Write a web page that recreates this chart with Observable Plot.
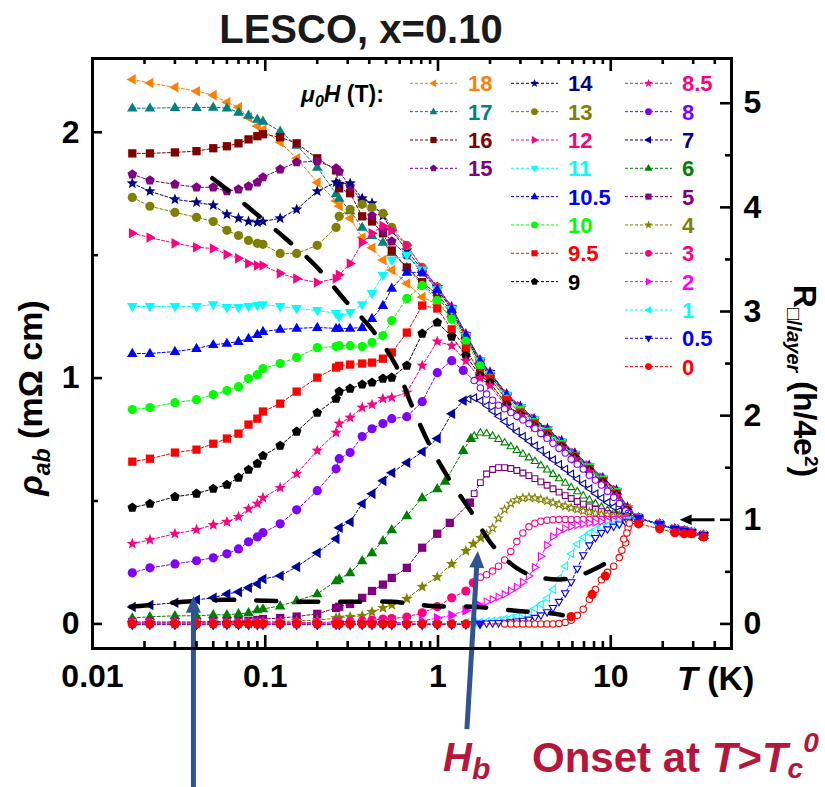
<!DOCTYPE html>
<html>
<head>
<meta charset="utf-8">
<script src="https://cdn.jsdelivr.net/npm/d3@7"></script>
<script src="https://cdn.jsdelivr.net/npm/@observablehq/plot@0.6"></script>
<style>
  body { margin: 0; background: #fff; }
  #chart { position: relative; width: 825px; height: 787px; }
</style>
</head>
<body>
<div id="chart"></div>
<script>
// ---------- axes ----------
const K = 0.4236;                         // mΩ cm per (h/4e²) per layer
const xMajor = [0.01, 0.1, 1, 10];
const xMajorLabels = ["0.01", "0.1", "1", "10"];
const yMajor = [0, 1, 2];
const yMinor = [0.5, 1.5];
const rMajor = [0, 1, 2, 3, 4, 5];
const rMinor = [0.5, 1.5, 2.5, 3.5, 4.5];

// ---------- temperature grids (K) ----------
const tLow = [0.017, 0.0215, 0.03, 0.04, 0.05, 0.06, 0.07, 0.08, 0.09, 0.097, 0.122, 0.152, 0.2, 0.257, 0.268, 0.31, 0.364, 0.415, 0.48, 0.54, 0.66, 0.81, 0.99];
const tHigh = [1.2, 1.45, 1.75, 2.0, 2.5, 3.0, 3.6, 4.3, 5.2, 6.2, 7.5, 9.0, 10.8, 12.5];
const tDense = [1.5, 1.62, 1.76, 1.91, 2.07, 2.24, 2.43, 2.64, 2.86, 3.1, 3.36, 3.64, 3.94, 4.28, 4.63, 5.02, 5.45, 5.9, 6.4, 6.93, 7.52, 8.15, 8.83, 9.57, 10.4, 11.2, 12.2, 12.6];
const tTail = [14.5, 19.2, 23.5, 26.6, 29.3, 34.4];
const tailRho = [0.43, 0.405, 0.385, 0.378, 0.372, 0.36];
const tail0 = [0.407, 0.387, 0.371, 0.367, 0.367, 0.354];

// ---------- ρab (mΩ cm) for each field ----------
const low18 = [2.215,2.200,2.183,2.167,2.151,2.122,2.102,2.060,2.025,2.010,1.959,1.894,1.796,1.720,1.700,1.650,1.572,1.530,1.480,1.440,1.385,1.330,1.300];
const high18 = [1.25,1.16,1.06,1.01,0.925,0.875,0.825,0.785,0.735,0.685,0.635,0.585,0.535,0.47];
const low17 = [2.098,2.098,2.100,2.100,2.102,2.098,2.081,2.069,2.053,2.045,2.004,1.947,1.857,1.750,1.731,1.680,1.613,1.580,1.552,1.510,1.450,1.380,1.330];
const high17 = [1.26,1.17,1.065,1.015,0.93,0.88,0.83,0.79,0.74,0.69,0.64,0.59,0.54,0.47];
const low16 = [1.914,1.914,1.918,1.923,1.935,1.943,1.955,1.971,1.984,1.992,1.980,1.955,1.894,1.845,1.772,1.752,1.658,1.637,1.589,1.519,1.450,1.390,1.340];
const high16 = [1.27,1.165,1.06,1.01,0.925,0.875,0.825,0.785,0.735,0.685,0.635,0.585,0.535,0.465];
const low15 = [1.829,1.804,1.788,1.776,1.776,1.760,1.768,1.780,1.796,1.817,1.849,1.878,1.882,1.853,1.840,1.780,1.720,1.660,1.600,1.556,1.500,1.430,1.370];
const high15 = [1.28,1.17,1.07,1.02,0.93,0.88,0.83,0.79,0.74,0.69,0.64,0.59,0.54,0.47];
const low14 = [1.792,1.760,1.727,1.715,1.703,1.666,1.650,1.637,1.633,1.637,1.650,1.686,1.760,1.796,1.790,1.792,1.731,1.711,1.660,1.600,1.520,1.440,1.370];
const high14 = [1.29,1.18,1.075,1.025,0.935,0.885,0.835,0.795,0.745,0.695,0.645,0.595,0.545,0.475];
const low13 = [1.735,1.699,1.674,1.654,1.637,1.601,1.580,1.560,1.548,1.544,1.507,1.507,1.540,1.613,1.658,1.686,1.707,1.694,1.670,1.613,1.540,1.450,1.370];
const high13 = [1.28,1.175,1.07,1.02,0.93,0.88,0.83,0.79,0.74,0.69,0.64,0.59,0.54,0.47];
const low12 = [1.589,1.572,1.548,1.532,1.527,1.503,1.487,1.466,1.458,1.458,1.426,1.405,1.389,1.405,1.420,1.466,1.552,1.589,1.620,1.600,1.540,1.450,1.370];
const high12 = [1.29,1.18,1.075,1.02,0.935,0.885,0.835,0.79,0.745,0.695,0.645,0.595,0.545,0.475];
const low11 = [1.291,1.291,1.291,1.291,1.299,1.287,1.287,1.291,1.295,1.299,1.291,1.283,1.275,1.263,1.250,1.267,1.299,1.344,1.418,1.479,1.500,1.440,1.360];
const high11 = [1.28,1.17,1.07,1.015,0.93,0.88,0.83,0.785,0.74,0.69,0.64,0.59,0.54,0.47];
const low105 = [1.100,1.100,1.108,1.120,1.136,1.141,1.149,1.161,1.177,1.189,1.198,1.202,1.206,1.202,1.202,1.202,1.206,1.242,1.295,1.365,1.430,1.430,1.360];
const high105 = [1.28,1.175,1.07,1.02,0.93,0.88,0.83,0.79,0.74,0.69,0.64,0.59,0.54,0.47];
const low10 = [0.872,0.880,0.900,0.912,0.933,0.949,0.965,0.998,1.014,1.039,1.059,1.084,1.124,1.128,1.132,1.132,1.128,1.145,1.173,1.234,1.324,1.377,1.316];
const high10 = [1.24,1.15,1.05,1.00,0.915,0.87,0.82,0.78,0.73,0.68,0.635,0.585,0.535,0.465];
const low95 = [0.660,0.672,0.697,0.709,0.733,0.754,0.774,0.811,0.835,0.864,0.896,0.945,1.002,1.043,1.050,1.055,1.059,1.063,1.079,1.104,1.185,1.295,1.283];
const high95 = [1.198,1.12,1.02,0.998,0.91,0.86,0.815,0.775,0.725,0.68,0.63,0.58,0.53,0.465];
const low9 = [0.473,0.489,0.517,0.530,0.550,0.566,0.595,0.627,0.652,0.684,0.725,0.782,0.859,0.916,0.945,0.957,0.974,0.982,0.998,1.002,1.051,1.181,1.226];
const high9 = [1.169,1.092,1.01,0.982,0.89,0.85,0.805,0.765,0.72,0.675,0.625,0.575,0.525,0.46];
const low85 = [0.326,0.342,0.367,0.383,0.403,0.415,0.436,0.468,0.489,0.513,0.554,0.611,0.705,0.778,0.815,0.839,0.880,0.892,0.916,0.921,0.941,1.051,1.149];
const high85 = [1.132,1.07,1.00,0.97,0.88,0.845,0.80,0.76,0.715,0.67,0.62,0.57,0.52,0.455];

const low8 = [0.208,0.228,0.244,0.257,0.269,0.285,0.305,0.334,0.354,0.371,0.407,0.464,0.542,0.631,0.672,0.697,0.762,0.794,0.815,0.835,0.843,0.904,1.022];
const mid8T = [1.2, 1.4], mid8 = [1.071, 1.031];
const dense8 = [null,0.99,0.96,0.935,0.91,0.89,0.875,0.86,0.845,0.83,0.815,0.795,0.775,0.755,0.735,0.715,0.695,0.67,0.65,0.63,0.605,0.585,0.565,0.54,0.515,0.49,0.46,0.45];

const low7 = [0.069,0.077,0.086,0.098,0.106,0.122,0.130,0.147,0.163,0.183,0.196,0.232,0.289,0.346,0.391,0.415,0.489,0.530,0.582,0.615,0.656,0.700,0.754];
const mid7T = [1.2, 1.4], mid7 = [0.855, 0.908];
const dense7 = [0.915,0.92,0.908,0.888,0.866,0.845,0.823,0.802,0.782,0.763,0.744,0.725,0.706,0.687,0.668,0.649,0.63,0.61,0.59,0.57,0.55,0.53,0.512,0.494,0.476,0.46,0.44,0.435];

const low6 = [0.024,0.029,0.033,0.033,0.037,0.037,0.041,0.045,0.057,0.061,0.073,0.094,0.122,0.175,0.183,0.208,0.257,0.289,0.338,0.383,0.440,0.513,0.550];
const mid6T = [1.1, 1.4, 1.55], mid6 = [0.58, 0.705, 0.754];
const dense6 = [null,0.765,0.778,0.775,0.765,0.752,0.738,0.722,0.707,0.692,0.677,0.662,0.645,0.628,0.61,0.592,0.574,0.556,0.539,0.522,0.505,0.49,0.476,0.463,0.452,0.443,0.435,0.432];

const low5 = [0.008,0.008,0.008,0.008,0.010,0.010,0.012,0.012,0.016,0.020,0.024,0.030,0.041,0.065,0.070,0.081,0.106,0.134,0.160,0.187,0.228,0.310,0.367];
const mid5T = [1.17, 1.53], mid5 = [0.411, 0.493];
const dense5 = [null,0.53,0.575,0.61,0.628,0.636,0.636,0.632,0.624,0.614,0.603,0.591,0.578,0.564,0.55,0.536,0.522,0.51,0.498,0.487,0.476,0.466,0.457,0.449,0.442,0.437,0.432,0.43];

const low4 = [0.004,0.004,0.004,0.004,0.005,0.005,0.005,0.006,0.007,0.008,0.010,0.012,0.015,0.024,0.026,0.029,0.033,0.049,0.065,0.077,0.102,0.151,0.191];
const mid4T = [1.2, 1.45, 1.6, 1.77], mid4 = [0.244, 0.297, 0.326, 0.35];
const dense4 = [null,null,null,0.365,0.39,0.43,0.465,0.49,0.505,0.512,0.515,0.512,0.507,0.50,0.493,0.486,0.479,0.472,0.466,0.46,0.455,0.45,0.446,0.442,0.438,0.435,0.432,0.43];

const low3 = [0.004,0.004,0.004,0.004,0.004,0.004,0.004,0.004,0.004,0.004,0.005,0.005,0.006,0.008,0.008,0.010,0.012,0.016,0.020,0.022,0.028,0.045,0.070];
const mid3T = [1.2, 1.45, 1.6], mid3 = [0.106, 0.134, 0.167];
const dense3 = [null,null,0.19,0.2,0.215,0.235,0.26,0.295,0.335,0.37,0.395,0.41,0.418,0.422,0.424,0.425,0.425,0.425,0.425,0.425,0.425,0.425,0.425,0.425,0.425,0.425,0.425,0.425];

const low2 = [0.003,0.003,0.003,0.003,0.003,0.003,0.003,0.003,0.003,0.003,0.003,0.003,0.003,0.003,0.003,0.003,0.003,0.004,0.004,0.005,0.006,0.012,0.024];
const mid2T = [1.2, 1.45, 1.7], mid2 = [0.035, 0.055, 0.08];
const dense2 = [null,null,null,0.09,0.1,0.11,0.12,0.135,0.15,0.17,0.195,0.23,0.275,0.32,0.355,0.375,0.388,0.396,0.402,0.406,0.41,0.413,0.416,0.419,0.421,0.423,0.425,0.425];

const low1 = [0.001,0.001,0.001,0.001,0.001,0.001,0.001,0.001,0.001,0.001,0.001,0.001,0.001,0.001,0.001,0.001,0.001,0.001,0.001,0.001,0.001,0.001,0.001];
const mid1T = [1.2, 1.45], mid1 = [0.002, 0.004];
const dense1 = [null,0.006,0.008,0.01,0.012,0.015,0.02,0.025,0.032,0.04,0.05,0.063,0.08,0.105,0.14,0.185,0.235,0.285,0.325,0.352,0.37,0.383,0.393,0.40,0.407,0.413,0.418,0.42];

const low05 = [-0.003,-0.003,-0.003,-0.003,-0.003,-0.003,-0.003,-0.003,-0.003,-0.003,-0.003,-0.003,-0.003,-0.003,-0.003,-0.003,-0.003,-0.003,-0.003,-0.003,-0.003,-0.003,-0.003];
const mid05T = [1.2, 1.45, 1.75], mid05 = [-0.003, -0.002, 0.0];
const dense05 = [null,null,null,0.002,0.003,0.004,0.005,0.007,0.01,0.013,0.018,0.025,0.035,0.048,0.065,0.09,0.125,0.17,0.225,0.28,0.32,0.35,0.37,0.385,0.396,0.405,0.413,0.416];

const low0 = [0,0,0,0,0,0,0,0,0,0,0,0,0,0,0,0,0,0,0,0,0,0,0];
const mid0T = [1.2, 1.45, 5.9, 7.8, 9.3], mid0 = [0, 0, 0.03, 0.12, 0.195];
const dense0 = [null,null,null,null,null,null,0,0,0,0,0,0,0,0,0,0.002,0.006,0.015,0.035,0.06,0.1,0.14,0.18,0.21,0.235,0.27,0.33,0.39];
const steep0T = [11.6, 11.9, 12.4, 12.8], steep0 = [0.30, 0.345, 0.37, 0.41];

// ---------- dashed guide curves ----------
const guideUpperT = [0.0494,0.055,0.084,0.129,0.195,0.29,0.41,0.571,0.679,0.875,1.127,1.57,2.08,3.18,5.57,9.48,10.8];
const guideUpperRho = [1.813,1.788,1.682,1.572,1.458,1.316,1.202,1.051,0.916,0.741,0.603,0.452,0.318,0.208,0.183,0.248,0.27];
const guideLowerT = [0.0166,0.0189,0.0336,0.0571,0.101,0.177,0.31,0.542,0.922,1.68,2.9,4.74,5.27];
const guideLowerRho = [0.07,0.073,0.09,0.098,0.094,0.09,0.09,0.09,0.073,0.069,0.053,0.041,0.035];

// ---------- marker shapes ----------
const poly = (p) => ({
  draw(ctx, size) {
    const r = Math.sqrt(size / Math.PI);
    p.forEach(([a, b], i) => (i ? ctx.lineTo(a * r, b * r) : ctx.moveTo(a * r, b * r)));
    ctx.closePath();
  }
});
const ring = (n, rr) => d3.range(n).map((i) => {
  const a = -Math.PI / 2 + (i * 2 * Math.PI) / n;
  const r = Array.isArray(rr) ? rr[i % rr.length] : rr;
  return [r * Math.cos(a), r * Math.sin(a)];
});
const shapes = {
  up: poly([[0, -1.25], [1.15, 0.75], [-1.15, 0.75]]),
  down: poly([[0, 1.25], [1.15, -0.75], [-1.15, -0.75]]),
  left: poly([[-1.25, 0], [0.75, -1.15], [0.75, 1.15]]),
  right: poly([[1.25, 0], [-0.75, -1.15], [-0.75, 1.15]]),
  square: poly([[-0.9, -0.9], [0.9, -0.9], [0.9, 0.9], [-0.9, 0.9]]),
  pentagon: poly(ring(5, 1.1)),
  star: poly(ring(10, [1.3, 0.55])),
  circle: d3.symbolCircle,
  head: poly([[0, 0], [1.15, 2.6], [-1.15, 2.6]])
};

// ---------- series definitions ----------
const seriesDefs = [
  { f: "18", color: "#FF8000", shape: "left", low: low18, high: high18 },
  { f: "17", color: "#008080", shape: "up", low: low17, high: high17 },
  { f: "16", color: "#800000", shape: "square", low: low16, high: high16 },
  { f: "15", color: "#800080", shape: "pentagon", low: low15, high: high15 },
  { f: "14", color: "#000080", shape: "star", low: low14, high: high14 },
  { f: "13", color: "#808000", shape: "circle", low: low13, high: high13 },
  { f: "12", color: "#FF0080", shape: "right", low: low12, high: high12 },
  { f: "11", color: "#00FFFF", shape: "down", low: low11, high: high11 },
  { f: "10.5", color: "#0000FF", shape: "up", low: low105, high: high105 },
  { f: "10", color: "#00FF00", shape: "circle", low: low10, high: high10 },
  { f: "9.5", color: "#FF0000", shape: "square", low: low95, high: high95 },
  { f: "9", color: "#000000", shape: "pentagon", low: low9, high: high9 },
  { f: "8.5", color: "#FF0080", shape: "star", low: low85, high: high85 },
  { f: "8", color: "#8000FF", shape: "circle", low: low8, midT: mid8T, mid: mid8, dense: dense8 },
  { f: "7", color: "#0000A0", shape: "left", low: low7, midT: mid7T, mid: mid7, dense: dense7 },
  { f: "6", color: "#008000", shape: "up", low: low6, midT: mid6T, mid: mid6, dense: dense6 },
  { f: "5", color: "#800080", shape: "square", low: low5, midT: mid5T, mid: mid5, dense: dense5 },
  { f: "4", color: "#808000", shape: "star", low: low4, midT: mid4T, mid: mid4, dense: dense4 },
  { f: "3", color: "#FF0080", shape: "circle", low: low3, midT: mid3T, mid: mid3, dense: dense3 },
  { f: "2", color: "#FF00FF", shape: "right", low: low2, midT: mid2T, mid: mid2, dense: dense2 },
  { f: "1", color: "#00FFFF", shape: "left", low: low1, midT: mid1T, mid: mid1, dense: dense1 },
  { f: "0.5", color: "#0000FF", shape: "down", low: low05, midT: mid05T, mid: mid05, dense: dense05 },
  { f: "0", color: "#FF0000", shape: "circle", low: low0, midT: mid0T, mid: mid0, dense: dense0, extraT: steep0T, extra: steep0, tail: tail0 }
];

const pts = (ts, vs) => ts.map((T, i) => ({ T, rho: vs[i] })).filter((d) => d.rho != null);

const series = seriesDefs.map((s) => {
  let filled = pts(tLow, s.low);
  if (s.high) filled = filled.concat(pts(tHigh, s.high));
  if (s.mid) filled = filled.concat(pts(s.midT, s.mid));
  filled = filled.concat(pts(tTail, s.tail || tailRho));
  let open = s.dense ? pts(tDense, s.dense) : [];
  if (s.extra) open = open.concat(pts(s.extraT, s.extra));
  const all = filled.concat(open).sort((a, b) => a.T - b.T);
  return { ...s, filled, open, all };
});

// ---------- layout ----------
const W = 825, H = 787, mL = 92, mR = 94, mT = 58, mB = 139;
const frameW = W - mL - mR, frameH = H - mT - mB;
const FONT = "'Liberation Sans', Arial, Helvetica, sans-serif";
const xMinor = xMajor.flatMap((m) => d3.range(2, 10).map((k) => +(k * m).toPrecision(3))).filter((v) => v <= 50);

const seriesMarks = series.flatMap((s) => [
  Plot.line(s.all, { x: "T", y: "rho", stroke: s.color, strokeWidth: 1, strokeDasharray: "3,2" }),
  Plot.dot(s.open, { x: "T", y: "rho", symbol: shapes[s.shape], r: 3.2, fill: "white", stroke: s.color, strokeWidth: 1.1 }),
  Plot.dot(s.filled, { x: "T", y: "rho", symbol: shapes[s.shape], r: 4.6, fill: s.color })
]);

// annotation arrows (data coordinates of tail, shaft end and tip)
const arrowsBlue = [
  { T1: 0.0384, r1: -0.668, T2: 0.0384, r2: 0.06, Tt: 0.0384, rt: 0.114, rot: 0 },
  { T1: 1.47, r1: -0.428, T2: 1.68, r2: 0.248, Tt: 1.70, rt: 0.297, rot: 3.6 }
];
const arrowR = [{ T1: 39.9, T2: 28.6, Tt: 25.05, r: 1 * K }];

const plot = Plot.plot({
  width: W, height: H,
  marginLeft: mL, marginRight: mR, marginTop: mT, marginBottom: mB,
  style: { fontFamily: FONT, background: "white", overflow: "visible" },
  x: { type: "log", domain: [0.01, 50] },
  y: { domain: [-0.10, 2.30] },
  marks: [
    ...seriesMarks,
    Plot.line(guideUpperT.map((T, i) => ({ T, rho: guideUpperRho[i] })), { x: "T", y: "rho", stroke: "black", strokeWidth: 4.5, strokeDasharray: "20,21", curve: "catmull-rom" }),
    Plot.line(guideLowerT.map((T, i) => ({ T, rho: guideLowerRho[i] })), { x: "T", y: "rho", stroke: "black", strokeWidth: 4.5, strokeDasharray: "20,22", curve: "catmull-rom" }),
    Plot.link(arrowsBlue, { x1: "T1", y1: "r1", x2: "T2", y2: "r2", stroke: "#2f5491", strokeWidth: 5 }),
    Plot.dot(arrowsBlue, { x: "Tt", y: "rt", symbol: shapes.head, r: 6.5, fill: "#2f5491", rotate: "rot" }),
    Plot.link(arrowR, { x1: "T1", y1: "r", x2: "T2", y2: "r", stroke: "black", strokeWidth: 3 }),
    Plot.dot(arrowR, { x: "Tt", y: "r", symbol: shapes.head, r: 4.6, fill: "black", rotate: -90 }),
    // frame and inward ticks
    Plot.frame({ stroke: "black", strokeWidth: 3 }),
    Plot.tickX(xMajor, { insetTop: frameH - 13, stroke: "black", strokeWidth: 2.6 }),
    Plot.tickX(xMinor, { insetTop: frameH - 7, stroke: "black", strokeWidth: 2.6 }),
    Plot.tickX(xMajor, { insetBottom: frameH - 13, stroke: "black", strokeWidth: 2.6 }),
    Plot.tickX(xMinor, { insetBottom: frameH - 6, stroke: "black", strokeWidth: 2.6 }),
    Plot.tickY(yMajor, { insetRight: frameW - 10, stroke: "black", strokeWidth: 2.6 }),
    Plot.tickY(yMinor, { insetRight: frameW - 6, stroke: "black", strokeWidth: 2.6 }),
    Plot.tickY(rMajor.map((r) => r * K), { insetLeft: frameW - 11, stroke: "black", strokeWidth: 2.6 }),
    Plot.tickY(rMinor.map((r) => r * K), { insetLeft: frameW - 6, stroke: "black", strokeWidth: 2.6 }),
    Plot.axisX({ ticks: xMajor, tickFormat: (d) => xMajorLabels[xMajor.indexOf(d)], tickSize: 0, tickPadding: 16, fontSize: 32, fontWeight: "bold", label: null, anchor: "bottom" }),
    Plot.axisY({ ticks: yMajor, tickFormat: (d) => String(d), tickSize: 0, tickPadding: 13, fontSize: 32, fontWeight: "bold", label: null, anchor: "left" }),
    Plot.axisY({ ticks: rMajor.map((r) => r * K), tickFormat: (v) => String(Math.round(v / K)), tickSize: 0, tickPadding: 12, fontSize: 32, fontWeight: "bold", label: null, anchor: "right" })
  ]
});

document.getElementById("chart").appendChild(plot);

// ---------- titles, axis labels, notes ----------
const svg = d3.select(plot);
const g = svg.append("g").attr("font-family", FONT).attr("font-weight", "bold").attr("text-anchor", "start");

function rich(attrs, parts) {
  const t = g.append("text");
  Object.entries(attrs).forEach(([k, v]) => t.attr(k, v));
  parts.forEach((p) => {
    const s = t.append("tspan").text(p.t);
    if (p.i) s.attr("font-style", "italic");
    if (p.fs) s.attr("font-size", p.fs);
    if (p.dy) s.attr("dy", p.dy);
  });
  return t;
}

rich({ x: 361, y: 43, "text-anchor": "middle", "font-size": 40, fill: "#1a1a1a" }, [{ t: "LESCO, x=0.10" }]);

rich({ transform: "translate(42,398) rotate(-90)", "text-anchor": "middle", "font-size": 34, fill: "black" },
  [{ t: "ρ", i: true }, { t: "ab", i: true, fs: 23, dy: 8 }, { t: " (mΩ cm)", dy: -8 }]);

rich({ transform: "translate(794,381) rotate(90)", "text-anchor": "middle", "font-size": 32, fill: "black" },
  [{ t: "R" }, { t: "□/", fs: 20, dy: 7 }, { t: "layer", fs: 20, i: true }, { t: " (h/4e", dy: -7 }, { t: "2", fs: 19, dy: -11 }, { t: ")", dy: 11 }]);

rich({ x: 677, y: 690, "font-size": 34, fill: "black" }, [{ t: "T", i: true }, { t: " (K)" }]);

rich({ x: 301, y: 102, "font-size": 23, fill: "black" },
  [{ t: "μ", i: true }, { t: "0", i: true, fs: 16, dy: 5 }, { t: "H", i: true, dy: -5 }, { t: " (T):" }]);

const noteRed = "#b5163a";
rich({ x: 443, y: 771, "font-size": 40, fill: noteRed }, [{ t: "H", i: true }, { t: "b", i: true, fs: 30, dy: 8 }]);
rich({ x: 532, y: 772, "font-size": 42, fill: noteRed },
  [{ t: "Onset at " }, { t: "T", i: true }, { t: ">" }, { t: "T", i: true }, { t: "c", i: true, fs: 28, dy: 6 }, { t: "0", i: true, fs: 28, dy: -26 }]);

// ---------- legend ----------
const legendCols = [
  { x1: 410, x2: 457, lx: 468, items: ["18", "17", "16", "15"] },
  { x1: 511, x2: 558, lx: 568, items: ["14", "13", "12", "11", "10.5", "10", "9.5", "9"] },
  { x1: 625, x2: 672, lx: 682, items: ["8.5", "8", "7", "6", "5", "4", "3", "2", "1", "0.5", "0"] }
];
const legendTop = 83.3, legendStep = 28.33;
const byField = new Map(series.map((s) => [s.f, s]));
const lg = svg.append("g").attr("font-family", FONT).attr("font-weight", "bold").attr("text-anchor", "start");
legendCols.forEach((col) => {
  col.items.forEach((f, i) => {
    const s = byField.get(f);
    const y = legendTop + i * legendStep;
    lg.append("line").attr("x1", col.x1).attr("x2", col.x2).attr("y1", y).attr("y2", y)
      .attr("stroke", s.color).attr("stroke-width", 1).attr("stroke-dasharray", "3,2");
    lg.append("path").attr("transform", `translate(${(col.x1 + col.x2) / 2},${y})`)
      .attr("d", d3.symbol().type(shapes[s.shape]).size(Math.PI * 3.4 * 3.4)())
      .attr("fill", s.color);
    lg.append("text").attr("x", col.lx).attr("y", y + 8).attr("font-size", 22).attr("fill", s.color).text(f);
  });
});
</script>
</body>
</html>
